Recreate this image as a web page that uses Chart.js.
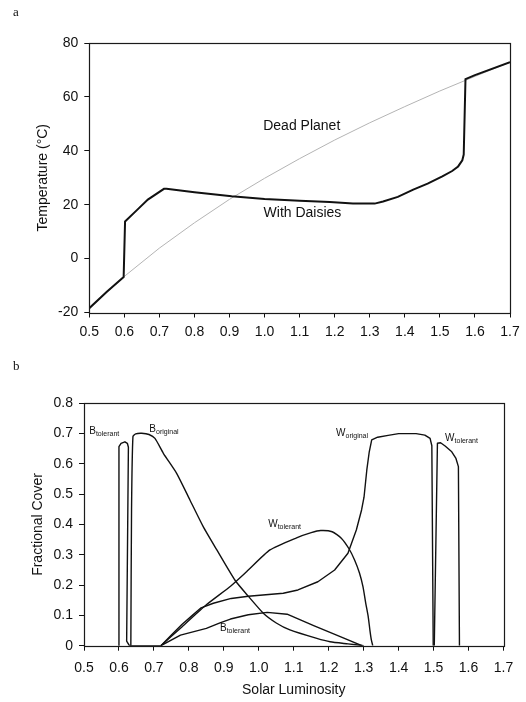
<!DOCTYPE html>
<html><head><meta charset="utf-8">
<script src="https://cdn.jsdelivr.net/npm/chart.js@4"></script>
<style>
html,body{margin:0;padding:0;background:#fff;}
#wrap{position:relative;width:526px;height:702px;overflow:hidden;background:#fff;}
canvas{position:absolute;left:0;}
.panel{position:absolute;left:13px;font-family:"Liberation Serif","DejaVu Serif",serif;font-size:13px;line-height:13px;color:#111;}
</style></head><body>
<div id="wrap">
<canvas id="c1" width="526" height="350" style="top:0"></canvas>
<canvas id="c2" width="526" height="352" style="top:350px"></canvas>
<div class="panel" style="top:5px">a</div>
<div class="panel" style="top:359px">b</div>
</div>
<script>
// ---------- data ----------
const xTicks = [0.5,0.6,0.7,0.8,0.9,1.0,1.1,1.2,1.3,1.4,1.5,1.6,1.7];
const xTickLabels = ['0.5','0.6','0.7','0.8','0.9','1.0','1.1','1.2','1.3','1.4','1.5','1.6','1.7'];
const tempTicks = [-20,0,20,40,60,80];
const tempTickLabels = ['-20','0','20','40','60','80'];
const coverTicks = [0,0.1,0.2,0.3,0.4,0.5,0.6,0.7,0.8];
const coverTickLabels = ['0','0.1','0.2','0.3','0.4','0.5','0.6','0.7','0.8'];

// panel a
const deadPlanetL = [0.5,0.6,0.7,0.8,0.9,1.0,1.1,1.2,1.3,1.4,1.5,1.6,1.7];
const deadPlanetT = [-18.4,-6.6,3.9,13.3,22.0,29.8,37.1,44.0,50.4,56.4,62.2,67.6,72.9];
const daisyL = [0.5,0.55,0.598,0.602,0.635,0.667,0.713,0.72,0.8,0.906,1.0,1.1,1.186,1.252,1.314,1.338,1.38,1.424,1.465,1.507,1.535,1.552,1.564,1.568,1.573,1.6,1.7];
const daisyT = [-18.4,-12.3,-6.8,13.8,17.9,21.9,25.9,25.9,24.6,23.1,22.1,21.5,21.0,20.4,20.4,21.2,22.9,25.6,27.8,30.5,32.5,34.2,36.5,38.6,66.6,68.1,72.9];

// panel b
const bTolL = [0.598,0.600,0.606,0.617,0.624,0.627,0.622,0.63,0.72,0.776,0.85,0.889,0.919,0.97,1.024,1.081,1.157,1.233,1.295];
const bTolC = [0,0.657,0.668,0.673,0.668,0.655,0.015,0,0,0.035,0.057,0.075,0.088,0.102,0.110,0.104,0.066,0.030,0];
const bOrigL = [0.634,0.636,0.64,0.648,0.665,0.686,0.703,0.727,0.765,0.803,0.841,0.880,0.932,0.965,1.013,1.05,1.089,1.166,1.204,1.255,1.30];
const bOrigC = [0,0.45,0.69,0.699,0.701,0.697,0.684,0.635,0.569,0.481,0.393,0.316,0.216,0.17,0.107,0.075,0.052,0.024,0.013,0.006,0];
const wTolL = [0.72,0.78,0.85,0.92,0.965,1.032,1.108,1.15,1.177,1.21,1.236,1.258,1.274,1.288,1.298,1.306,1.313,1.318,1.322,1.326];
const wTolC = [0,0.062,0.135,0.197,0.244,0.316,0.356,0.373,0.380,0.376,0.355,0.32,0.283,0.24,0.195,0.14,0.096,0.05,0.019,0];
const wOrigL = [0.72,0.75,0.78,0.81,0.835,0.87,0.921,0.97,1.02,1.07,1.112,1.169,1.217,1.255,1.279,1.294,1.301,1.309,1.316,1.323,1.34,1.37,1.40,1.45,1.475,1.49,1.495,1.499];
const wOrigC = [0,0.035,0.07,0.1,0.125,0.14,0.156,0.163,0.168,0.173,0.184,0.211,0.25,0.305,0.382,0.448,0.49,0.58,0.64,0.679,0.688,0.694,0.70,0.70,0.695,0.684,0.66,0];
const wTol2L = [1.502,1.511,1.52,1.533,1.552,1.564,1.571,1.574];
const wTol2C = [0,0.668,0.67,0.659,0.64,0.618,0.591,0];

// ---------- helpers ----------
const pts = (xs, ys) => xs.map((x, i) => ({x: x, y: ys[i]}));
const FONT = '"Liberation Sans", Arial, Helvetica, sans-serif';

const boxPlugin = {
  id: 'box',
  afterDatasetsDraw(chart) {
    const {ctx, chartArea: a} = chart;
    ctx.save();
    ctx.strokeStyle = '#1a1a1a';
    ctx.lineWidth = 1.2;
    ctx.strokeRect(Math.round(a.left) + 0.5, Math.round(a.top) + 0.5,
      Math.round(a.right) - Math.round(a.left), Math.round(a.bottom) - Math.round(a.top));
    ctx.restore();
  }
};

const textPlugin = {
  id: 'txt',
  afterDatasetsDraw(chart, args, opts) {
    const {ctx} = chart;
    const xs = chart.scales.x, ys = chart.scales.y;
    ctx.save();
    ctx.fillStyle = '#111';
    (opts.labels || []).forEach(l => {
      const px = xs.getPixelForValue(l.x), py = ys.getPixelForValue(l.y);
      if (l.sub) {
        ctx.textAlign = 'left';
        ctx.textBaseline = 'alphabetic';
        ctx.font = '10px ' + FONT;
        ctx.fillText(l.main, px, py);
        const w = ctx.measureText(l.main).width;
        ctx.font = '7px ' + FONT;
        ctx.fillText(l.sub, px + w, py + 2);
      } else {
        ctx.textAlign = 'center';
        ctx.textBaseline = 'middle';
        ctx.font = '14px ' + FONT;
        ctx.fillText(l.text, px, py);
      }
    });
    ctx.restore();
  }
};

function xScale(height, labelPad, title) {
  return {
    type: 'linear', min: 0.5, max: 1.7,
    afterFit: s => { s.height = height; },
    afterBuildTicks: s => { s.ticks = xTicks.map(v => ({value: v})); },
    ticks: {
      autoSkip: false, maxRotation: 0, padding: labelPad, color: '#111',
      font: {family: FONT, size: 14},
      callback: (v) => { const i = xTicks.findIndex(t => Math.abs(t - v) < 1e-6); return i >= 0 ? xTickLabels[i] : ''; }
    },
    grid: {display: true, drawOnChartArea: false, drawTicks: true, tickLength: 5, color: '#111', lineWidth: 1},
    border: {display: false},
    title: title ? {display: true, text: title, color: '#111', font: {family: FONT, size: 14}, padding: {top: 0, bottom: 3.6}} : {display: false}
  };
}
function yScale(width, min, max, ticks, labels, title, titlePad) {
  return {
    type: 'linear', min: min, max: max,
    afterFit: s => { s.width = width; },
    afterBuildTicks: s => { s.ticks = ticks.map(v => ({value: v})); },
    ticks: {
      padding: 6, color: '#111',
      font: {family: FONT, size: 14},
      callback: (v) => { const i = ticks.findIndex(t => Math.abs(t - v) < 1e-6); return i >= 0 ? labels[i] : ''; }
    },
    grid: {display: true, drawOnChartArea: false, drawTicks: true, tickLength: 5, color: '#111', lineWidth: 1},
    border: {display: false},
    title: {display: true, text: title, color: '#111', font: {family: FONT, size: 14}, padding: {top: titlePad, bottom: 0}}
  };
}

const common = {
  responsive: false, animation: false, devicePixelRatio: 1,
  plugins: {legend: {display: false}, tooltip: {enabled: false}},
  elements: {point: {radius: 0}, line: {tension: 0}}
};

// ---------- panel a ----------
new Chart(document.getElementById('c1'), {
  type: 'scatter',
  data: {datasets: [
    {label: 'With Daisies', data: pts(daisyL, daisyT), showLine: true, borderColor: '#111', borderWidth: 2, order: 1},
    {label: 'Dead Planet', data: pts(deadPlanetL, deadPlanetT), showLine: true, borderColor: '#b4b4b4', borderWidth: 1, order: 2}
  ]},
  options: Object.assign({}, common, {
    layout: {padding: {top: 43, right: 16, left: 0, bottom: 0}},
    scales: {
      x: xScale(37.5, 6, null),
      y: yScale(89.3, -20, 80, tempTicks, tempTickLabels, 'Temperature (\u00B0C)', 34.6)
    },
    plugins: Object.assign({}, common.plugins, {
      txt: {labels: [
        {text: 'Dead Planet', x: 1.106, y: 49},
        {text: 'With Daisies', x: 1.108, y: 16.9}
      ]}
    })
  }),
  plugins: [boxPlugin, textPlugin]
});

// ---------- panel b ----------
const lineDs = (label, xs, ys, tension) => ({label: label, data: pts(xs, ys), showLine: true, borderColor: '#111', borderWidth: 1.4, borderJoinStyle: 'round', tension: tension || 0});
new Chart(document.getElementById('c2'), {
  type: 'scatter',
  data: {datasets: [
    lineDs('B tolerant', bTolL, bTolC),
    lineDs('B original', bOrigL, bOrigC, 0.2),
    lineDs('W tolerant', wTolL, wTolC, 0.2),
    lineDs('W original', wOrigL, wOrigC),
    lineDs('W tolerant (hot)', wTol2L, wTol2C)
  ]},
  options: Object.assign({}, common, {
    layout: {padding: {top: 53.3, right: 22.5, left: 0, bottom: 0}},
    scales: {
      x: xScale(56.3, 9, 'Solar Luminosity'),
      y: yScale(84, 0, 0.8, coverTicks, coverTickLabels, 'Fractional Cover', 29.6)
    },
    plugins: Object.assign({}, common.plugins, {
      txt: {labels: [
        {main: 'B', sub: 'tolerant', x: 0.515, y: 0.698},
        {main: 'B', sub: 'original', x: 0.687, y: 0.706},
        {main: 'W', sub: 'original', x: 1.221, y: 0.692},
        {main: 'W', sub: 'tolerant', x: 1.533, y: 0.677},
        {main: 'W', sub: 'tolerant', x: 1.027, y: 0.393},
        {main: 'B', sub: 'tolerant', x: 0.889, y: 0.0485}
      ]}
    })
  }),
  plugins: [boxPlugin, textPlugin]
});
</script>
</body></html>
